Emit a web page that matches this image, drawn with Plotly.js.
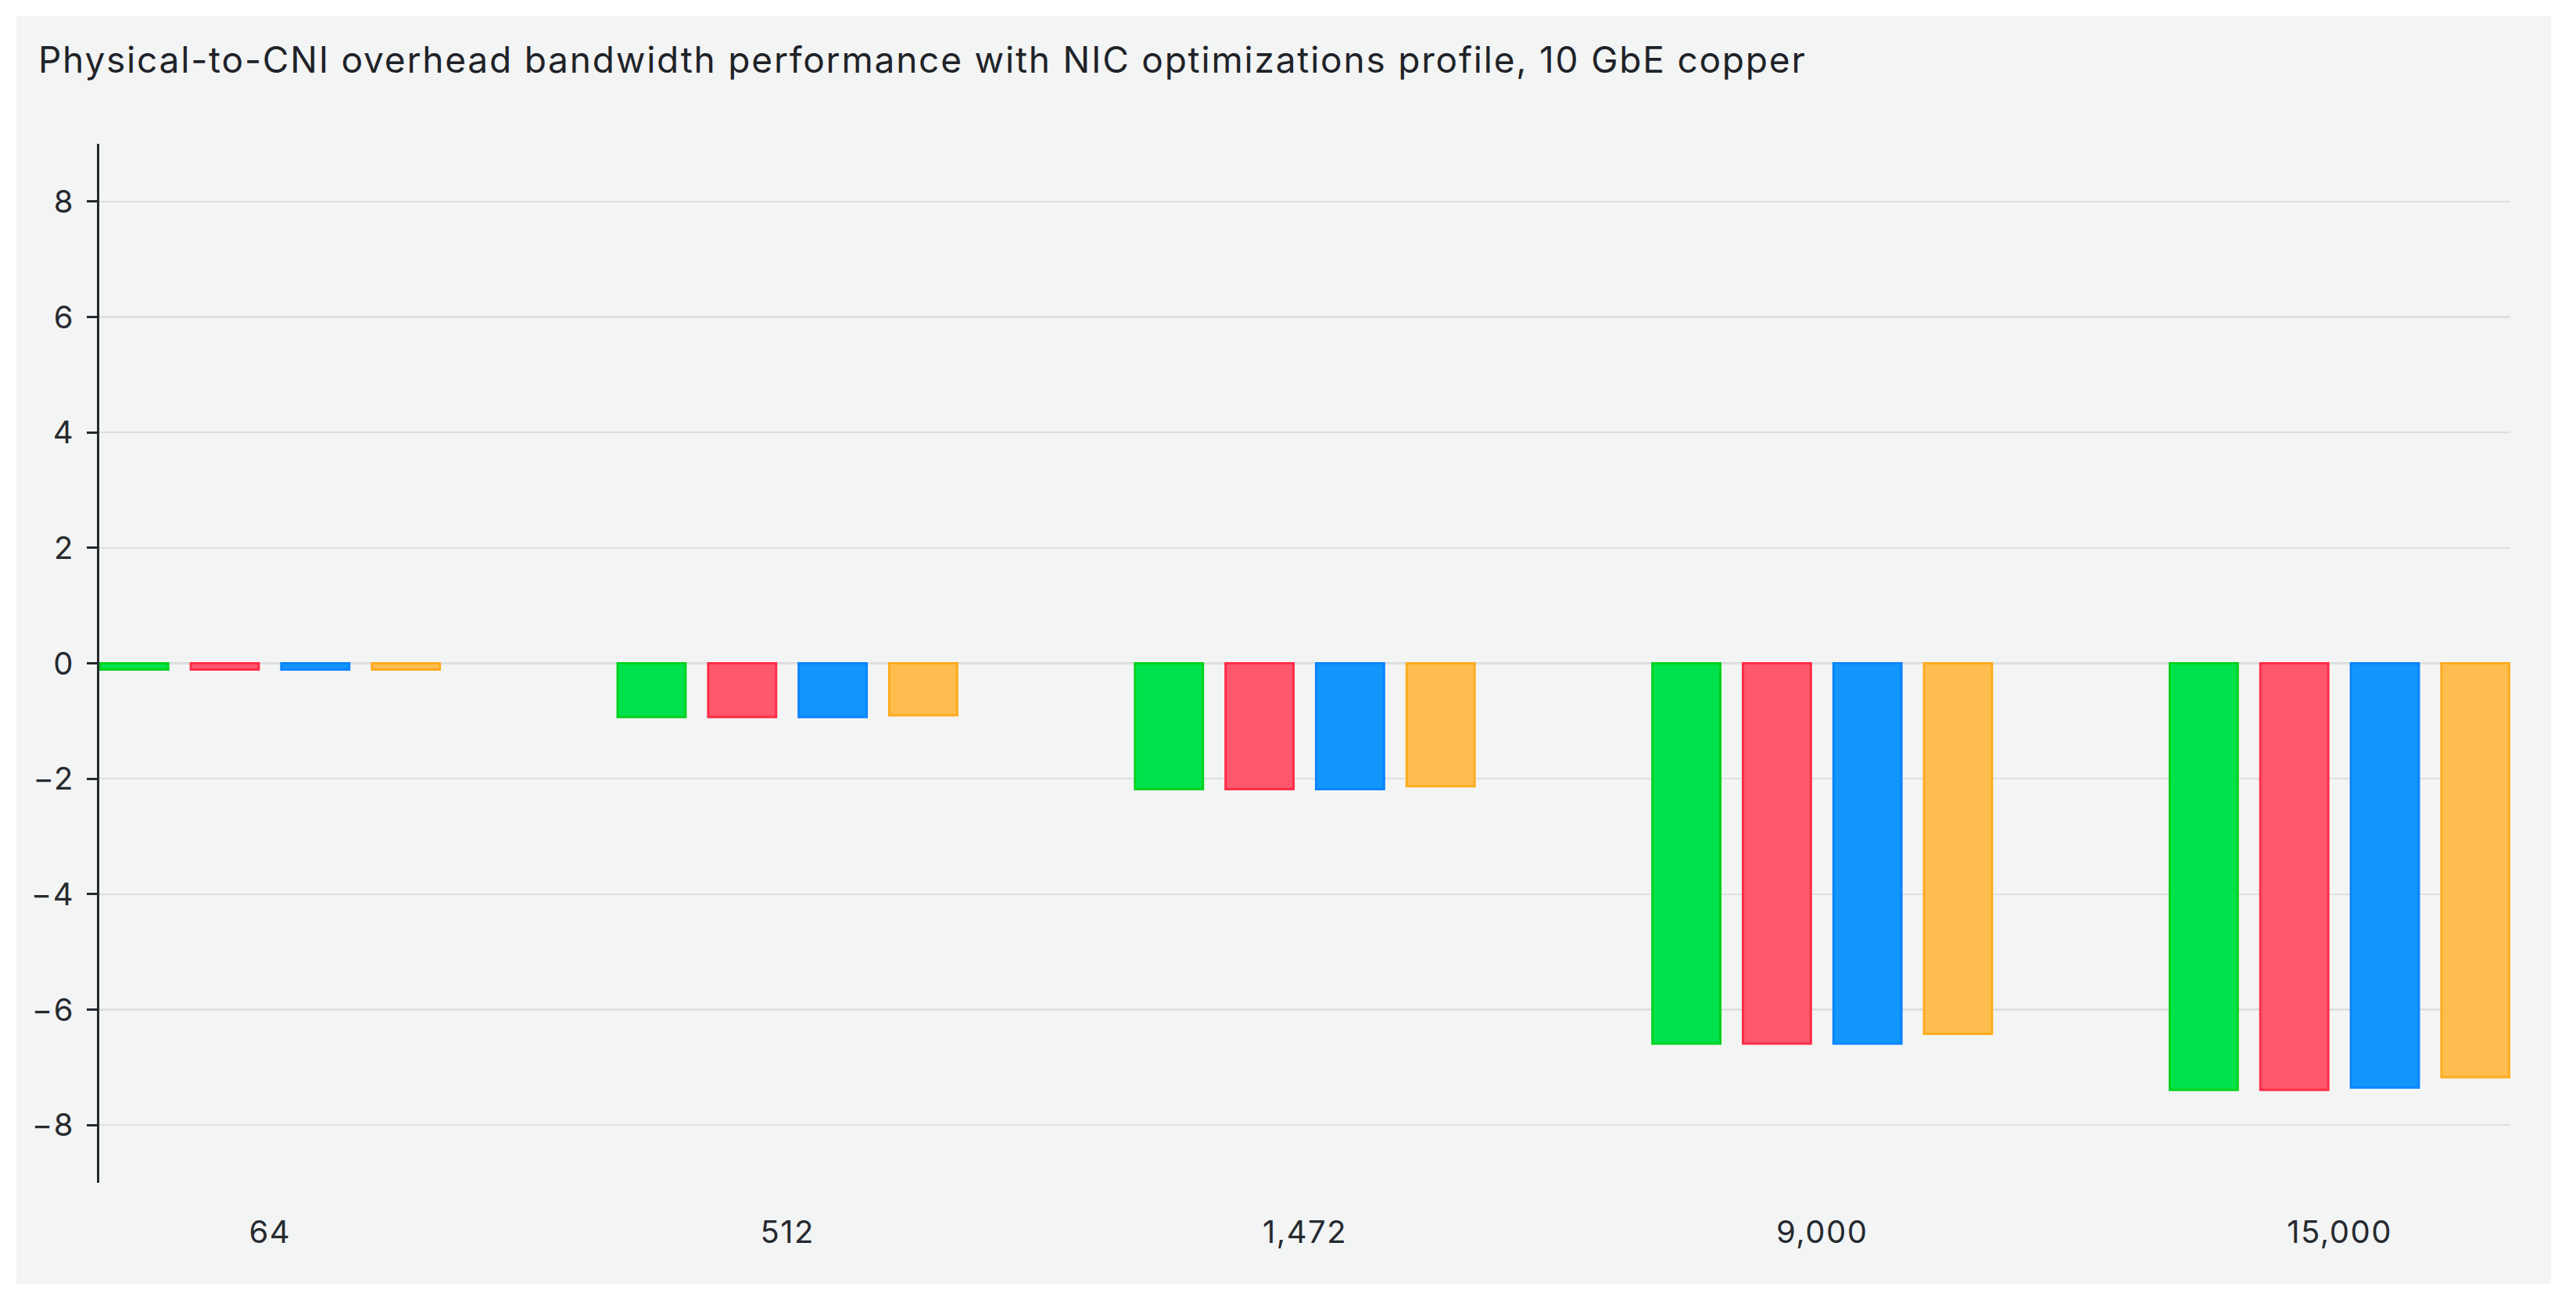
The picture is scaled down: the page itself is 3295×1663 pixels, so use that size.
<!DOCTYPE html>
<html>
<head>
<meta charset="utf-8">
<script src="https://cdn.plot.ly/plotly-3.0.1.min.js"></script>
<style>
  html, body { margin: 0; padding: 0; background: #ffffff; }
  #chart { position: absolute; left: 21px; top: 21px; width: 3242px; height: 1621px; }
  #chart .gtitle { letter-spacing: 1.8px; }
  #chart .xtick text, #chart .ytick text { letter-spacing: 1.5px; }
</style>
</head>
<body>
<div id="chart"></div>
<script>
// Packet sizes (categories)
const categories = ["64", "512", "1,472", "9,000", "15,000"];
// Four series (overhead %)
const seriesNames = ["Series 1", "Series 2", "Series 3", "Series 4"];
const series1 = [-0.11, -0.93, -2.18, -6.59, -7.39];
const series2 = [-0.11, -0.93, -2.18, -6.59, -7.39];
const series3 = [-0.11, -0.93, -2.18, -6.59, -7.35];
const series4 = [-0.11, -0.90, -2.13, -6.42, -7.17];
const yTickVals = [-8, -6, -4, -2, 0, 2, 4, 6, 8];

const fills = ["#00e24b", "#ff576c", "#1196fc", "#ffbd4f"];
const lines = ["#00d11e", "#ff2d47", "#0a84ff", "#ffab1e"];
const allSeries = [series1, series2, series3, series4];

const traces = allSeries.map((vals, i) => ({
  type: "bar",
  name: seriesNames[i],
  x: categories,
  y: vals,
  marker: { color: fills[i], line: { color: lines[i], width: 3 } },
  hoverinfo: "x+y+name"
}));

const layout = {
  width: 3242,
  height: 1621,
  paper_bgcolor: "#f3f4f4",
  plot_bgcolor: "#f3f4f4",
  showlegend: false,
  barmode: "group",
  bargap: 0.30,
  bargroupgap: 0.25,
  margin: { l: 106, r: 52, t: 163, b: 129, pad: 0 },
  font: { family: "Inter, 'Noto Sans', sans-serif", color: "#262a2f", size: 40 },
  title: {
    text: "Physical-to-CNI overhead bandwidth performance with NIC optimizations profile, 10 GbE copper",
    font: { family: "Inter, sans-serif", size: 46, color: "#1f2328" },
    xref: "container", yref: "container",
    x: 0.0086, xanchor: "left",
    y: 0.9655, yanchor: "middle"
  },
  xaxis: {
    type: "category",
    range: [-0.33, 4.33],
    showgrid: false,
    showline: false,
    zeroline: false,
    ticks: "",
    ticklabelstandoff: 36,
    tickfont: { size: 40, color: "#262a2f" }
  },
  yaxis: {
    range: [-9, 9],
    tickvals: yTickVals,
    showgrid: true,
    gridcolor: "#dedfdf",
    gridwidth: 2.5,
    zeroline: false,
    showline: true,
    linecolor: "#24292e",
    linewidth: 3,
    ticks: "outside",
    ticklen: 13,
    tickwidth: 3,
    tickcolor: "#24292e",
    ticklabelstandoff: 8,
    tickfont: { size: 40, color: "#262a2f" }
  }
};

Plotly.newPlot("chart", traces, layout, { displayModeBar: false, staticPlot: true });
</script>
</body>
</html>
